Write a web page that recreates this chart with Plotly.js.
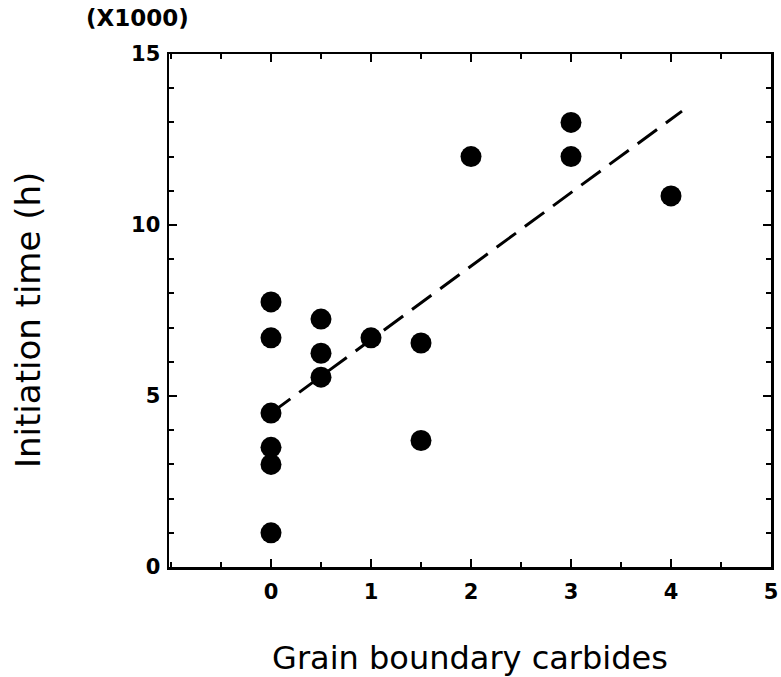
<!DOCTYPE html>
<html>
<head>
<meta charset="utf-8">
<script src="https://cdn.plot.ly/plotly-3.0.1.min.js"></script>
<style>html,body{margin:0;padding:0;background:#fff;}#chart{width:781px;height:677px;}</style>
</head>
<body>
<div id="chart"></div>
<script>
// Data (initiation time in units of 1000 h)
var carbides = [0, 0, 0, 0, 0, 0, 0.5, 0.5, 0.5, 1, 1.5, 1.5, 2, 3, 3, 4];
var initTime = [1.0, 3.0, 3.5, 4.5, 6.7, 7.75, 5.55, 6.25, 7.25, 6.7, 6.55, 3.7, 12.0, 13.0, 12.0, 10.85];
// Fitted trend line (dashed)
var fitX = [0, 4.11];
var fitY = [4.5, 13.33];
var xTickVals = [0, 1, 2, 3, 4, 5];
var yTickVals = [0, 5, 10, 15];

var font = "DejaVu Sans, sans-serif";

var traces = [
  {x: fitX, y: fitY, mode: 'lines', type: 'scatter',
   line: {color: '#000', width: 3, dash: '24px,11px'}, hoverinfo: 'skip'},
  {x: carbides, y: initTime, mode: 'markers', type: 'scatter',
   marker: {color: '#000', size: 21, line: {width: 0}}}
];

var axisCommon = {
  showgrid: false, zeroline: false, showline: true, linecolor: '#000', linewidth: 2.5,
  mirror: 'ticks', ticks: 'inside', ticklen: 8, tickwidth: 2, tickcolor: '#000',
  tickfont: {family: font, size: 21, color: '#000', weight: 'bold'}
};

var layout = {
  width: 781, height: 677,
  margin: {l: 169, r: 10, t: 54, b: 110},
  paper_bgcolor: '#fff', plot_bgcolor: '#fff',
  showlegend: false,
  xaxis: Object.assign({}, axisCommon, {
    range: [-1.02, 5], tickmode: 'array', tickvals: xTickVals, ticktext: xTickVals.map(String),
    ticklabelstandoff: 4,
    minor: {dtick: 0.5, tick0: 0, ticks: 'inside', ticklen: 5, tickwidth: 2, tickcolor: '#000'},
    title: {text: 'Grain boundary carbides', font: {family: font, size: 32, color: '#000'}, standoff: 48}
  }),
  yaxis: Object.assign({}, axisCommon, {
    range: [0, 15], tickmode: 'array', tickvals: yTickVals, ticktext: yTickVals.map(String),
    ticklabelstandoff: 2,
    minor: {dtick: 1, tick0: 0, ticks: 'inside', ticklen: 5, tickwidth: 2, tickcolor: '#000'},
    title: {text: ''}
  }),
  annotations: [
    {text: 'Initiation time (h)', xref: 'paper', yref: 'paper', x: (28 - 169) / 602, y: (567 - 320) / 513,
     xanchor: 'center', yanchor: 'middle', textangle: -90,
     showarrow: false, font: {family: font, size: 34, color: '#000'}},
    {text: '(X1000)', xref: 'paper', yref: 'paper', x: (137 - 169) / 602, y: (567 - 18) / 513, xanchor: 'center', yanchor: 'middle',
     showarrow: false, font: {family: font, size: 23, color: '#000', weight: 'bold'}}
  ]
};

Plotly.newPlot('chart', traces, layout, {displayModeBar: false, staticPlot: true});
</script>
</body>
</html>
